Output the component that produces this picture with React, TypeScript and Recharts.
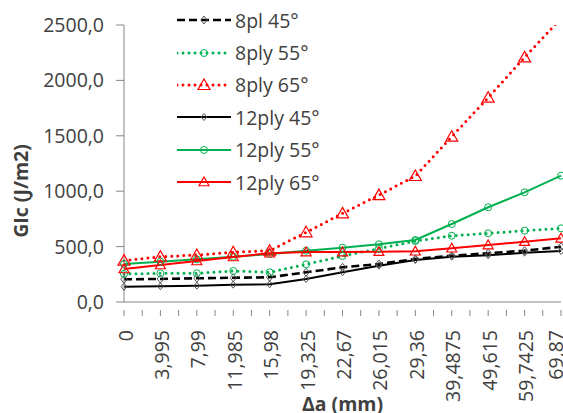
import React from 'react';
import { LineChart, Line, XAxis, YAxis, Legend, Label } from 'recharts';

// crack length categories (mm)
const deltaA = ['0', '3,995', '7,99', '11,985', '15,98', '19,325', '22,67', '26,015', '29,36', '39,4875', '49,615', '59,7425', '69,87'];

const ply8_45 = [205, 208, 214, 219, 223, 268, 313, 343, 388, 418, 440, 463, 499];
const ply8_55 = [253, 259, 259, 280, 268, 340, 415, 482, 550, 598, 620, 644, 665];
const ply8_65 = [373, 409, 424, 449, 463, 629, 800, 965, 1137, 1492, 1844, 2208, 2560];
const ply12_45 = [138, 142, 147, 156, 160, 208, 268, 328, 379, 409, 421, 445, 460];
const ply12_55 = [343, 364, 385, 409, 433, 463, 490, 521, 560, 704, 855, 990, 1140];
const ply12_65 = [298, 334, 370, 406, 440, 451, 451, 454, 458, 485, 514, 544, 575];

const yTicks = [0, 500, 1000, 1500, 2000, 2500];

const FONT = '"Open Sans", sans-serif';
const TEXT = '#404040';
const AXIS = '#868686';
const GREEN = '#00B050';
const RED = '#FF0000';

const CHART_W = 575;
const CHART_H = 405;
const MARGIN = { top: 17, right: 22, bottom: 0, left: 0 };
const Y_W = 116;
const X_H = 111;

type MarkerKind = 'diamond' | 'circle' | 'triangle';

interface SeriesDef {
  key: string;
  name: string;
  values: number[];
  color: string;
  width: number;
  dash?: string;
  cap?: 'round' | 'butt';
  marker: MarkerKind;
  markerColor: string;
  markerSize: number;
}

const series: SeriesDef[] = [
  { key: 's1', name: '8pl 45°', values: ply8_45, color: '#000', width: 2.6, dash: '8 4', marker: 'diamond', markerColor: '#555', markerSize: 4 },
  { key: 's2', name: '8ply 55°', values: ply8_55, color: GREEN, width: 3, dash: '0 6', cap: 'round', marker: 'circle', markerColor: GREEN, markerSize: 3.5 },
  { key: 's3', name: '8ply 65°', values: ply8_65, color: RED, width: 3, dash: '0 6', cap: 'round', marker: 'triangle', markerColor: RED, markerSize: 6 },
  { key: 's4', name: '12ply 45°', values: ply12_45, color: '#000', width: 2, marker: 'diamond', markerColor: '#555', markerSize: 3.5 },
  { key: 's5', name: '12ply 55°', values: ply12_55, color: GREEN, width: 2, marker: 'circle', markerColor: GREEN, markerSize: 3.5 },
  { key: 's6', name: '12ply 65°', values: ply12_65, color: RED, width: 2, marker: 'triangle', markerColor: RED, markerSize: 5 },
];

const data = deltaA.map((a, i) => {
  const row: Record<string, string | number> = { a };
  series.forEach((s) => {
    row[s.key] = s.values[i];
  });
  return row;
});

function Marker({ cx, cy, kind, color, size }: { cx: number; cy: number; kind: MarkerKind; color: string; size: number }) {
  if (cx == null || cy == null) return null;
  if (kind === 'circle') {
    return <circle cx={cx} cy={cy} r={size} fill="none" stroke={color} strokeWidth={1} />;
  }
  if (kind === 'diamond') {
    const s = size;
    return <path d={`M${cx},${cy - s}L${cx + s * 0.8},${cy}L${cx},${cy + s}L${cx - s * 0.8},${cy}Z`} fill="none" stroke={color} strokeWidth={1} />;
  }
  const s = size;
  return <path d={`M${cx},${cy - s}L${cx + s},${cy + s * 0.75}L${cx - s},${cy + s * 0.75}Z`} fill="none" stroke={color} strokeWidth={1.2} />;
}

const fmtY = (v: number) => v.toFixed(1).replace('.', ',');

const plotW = CHART_W - MARGIN.left - MARGIN.right - Y_W;
const step = plotW / (deltaA.length - 1);

function XTick(props: any) {
  const { x, y, payload, index } = props;
  const last = index === deltaA.length - 1;
  // excel pulls the last label back inside the chart edge
  const tx = x + 8.5 - (last ? 7 : 0);
  return (
    <g>
      <line x1={x} y1={y} x2={x} y2={y + 6} stroke={AXIS} />
      {!last && <line x1={x + step / 2} y1={y} x2={x + step / 2} y2={y + 6} stroke={AXIS} />}
      <text
        transform={`translate(${tx},${y + 20}) rotate(-90)`}
        textAnchor="end"
        fontFamily={FONT}
        fontSize={19.5}
        fill={TEXT}
      >
        {payload.value}
      </text>
    </g>
  );
}

function LegendBox() {
  return (
    <div style={{ fontFamily: FONT, fontSize: 19.5, color: TEXT }}>
      {series.map((s) => (
        <div key={s.key} style={{ height: 32.4, display: 'flex', alignItems: 'center' }}>
          <svg width={54} height={22}>
            <line x1={0} y1={11} x2={54} y2={11} stroke={s.color} strokeWidth={s.width} strokeDasharray={s.dash} strokeLinecap={s.cap ?? 'butt'} />
            <Marker cx={27} cy={11} kind={s.marker} color={s.markerColor} size={s.markerSize} />
          </svg>
          <span style={{ marginLeft: 4, whiteSpace: 'pre' }}>{s.name}</span>
        </div>
      ))}
    </div>
  );
}

export default function App() {
  return (
    <div style={{ position: 'absolute', top: 8, left: 8, width: 555, height: CHART_H, overflow: 'hidden' }}>
      <LineChart width={CHART_W} height={CHART_H} data={data} margin={MARGIN}>
        <XAxis
          dataKey="a"
          height={X_H}
          interval={0}
          tickLine={false}
          axisLine={{ stroke: AXIS }}
          tick={<XTick />}
        >
          <Label
            value="Δa (mm)"
            position="insideBottom"
            offset={2}
            style={{ fontFamily: FONT, fontSize: 19.5, fontWeight: 700, fill: TEXT }}
          />
        </XAxis>
        <YAxis
          width={Y_W}
          domain={[0, 2500]}
          allowDataOverflow
          ticks={yTicks}
          tickFormatter={fmtY}
          tickSize={8}
          tickMargin={12}
          axisLine={{ stroke: AXIS }}
          tickLine={{ stroke: AXIS }}
          tick={{ fontFamily: FONT, fontSize: 19.5, fill: TEXT }}
        >
          <Label
            content={() => (
              <text
                transform="translate(20,183) rotate(-90)"
                textAnchor="middle"
                fontFamily={FONT}
                fontSize={19.5}
                fontWeight={700}
                fill={TEXT}
              >
                GIc (J/m2)
              </text>
            )}
          />
        </YAxis>
        <Legend
          layout="vertical"
          align="center"
          verticalAlign="middle"
          wrapperStyle={{ top: -4, left: 169, width: 200 }}
          content={() => <LegendBox />}
        />
        {series.map((s) => (
          <Line
            key={s.key}
            dataKey={s.key}
            name={s.name}
            type="linear"
            stroke={s.color}
            strokeWidth={s.width}
            strokeDasharray={s.dash}
            strokeLinecap={s.cap ?? 'butt'}
            isAnimationActive={false}
            dot={(p: any) => (
              <Marker key={`${s.key}-${p.index}`} cx={p.cx} cy={p.cy} kind={s.marker} color={s.markerColor} size={s.markerSize} />
            )}
            activeDot={false}
          />
        ))}
      </LineChart>
    </div>
  );
}
